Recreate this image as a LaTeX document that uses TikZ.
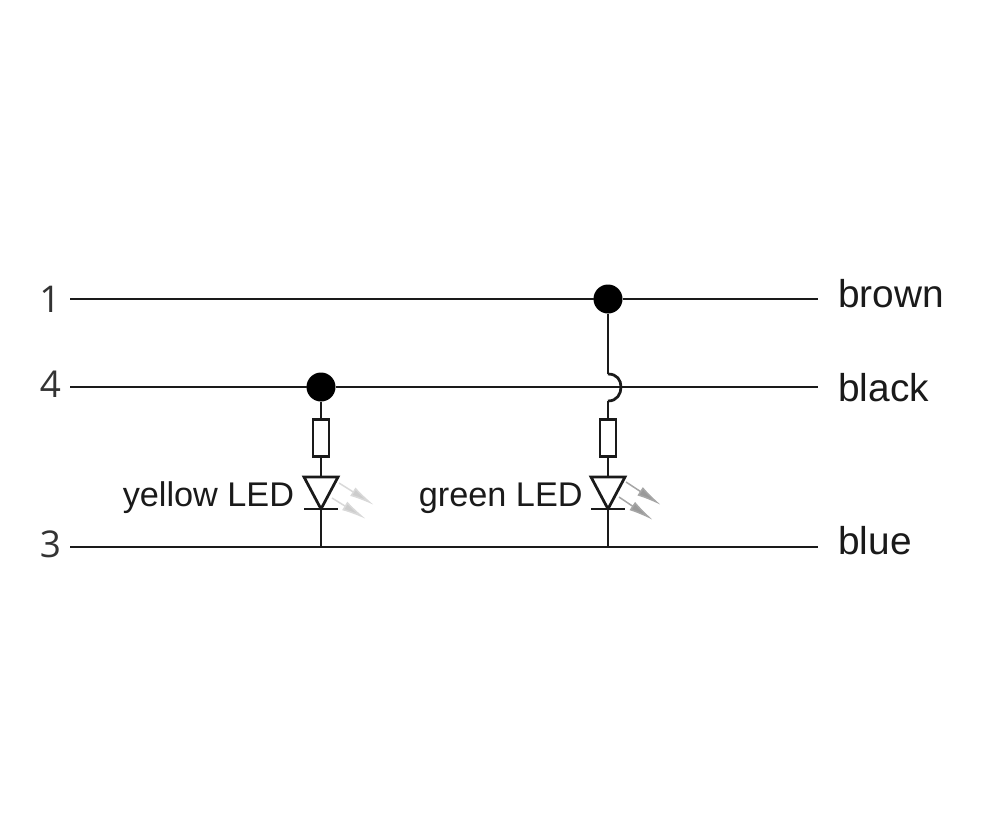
\documentclass[tikz,border=0pt]{standalone}
\usepackage{fontspec}
\setmainfont{Liberation Sans}
\newfontfamily\pinfont{Open Sans}
\usetikzlibrary{arrows.meta}
\definecolor{wirecol}{HTML}{1A1A1A}
\tikzset{
  wire/.style={draw=wirecol, line width=0.55mm},
  junction/.style={circle, fill=black, inner sep=0pt, outer sep=0pt, minimum size=0.58cm},
  resistor/.style={rectangle, draw=wirecol, fill=white, line width=0.55mm, inner sep=0pt, minimum width=0.32cm, minimum height=0.74cm},
  pinlabel/.style={anchor=base, inner sep=0pt, text=black!80, font=\pinfont\fontsize{21}{24}\selectfont},
  colorlabel/.style={anchor=base west, inner sep=0pt, text=wirecol, font=\fontsize{22.1}{24}\selectfont},
  ledlabel/.style={anchor=base east, inner sep=0pt, text=wirecol, font=\fontsize{19.5}{22}\selectfont},
  lightyellow/.style={draw=black!15, line width=0.3mm, -{Latex[length=0.5cm,width=0.2cm,fill=black!20]}},
  lightgreen/.style={draw=black!35, line width=0.3mm, -{Latex[length=0.5cm,width=0.2cm,fill=black!40]}},
}
\begin{document}
\begin{tikzpicture}[x=0.02cm,y=-0.02cm]
                \useasboundingbox (0,0) rectangle (1000,836);
                % wire ends
                \coordinate (startA) at (70,299);
                \coordinate (startB) at (70,387);
                \coordinate (startC) at (70,547);
                \coordinate (endA) at (818,299);
                \coordinate (endB) at (818,387);
                \coordinate (endC) at (818,547);
                \node[pinlabel] (pinA) at (50,312) {1};
                \node[pinlabel] (pinB) at (50.5,397) {4};
                \node[pinlabel] (pinC) at (50.5,557) {3};
                \node[colorlabel] (brown) at (838,307) {brown};
                \node[colorlabel] (black) at (838,401) {black};
                \node[colorlabel] (blue) at (838,554) {blue};
                % yellow branch
                \node[junction] (dotY) at (321,387) {};
                \node[resistor] (resY) at (321,438) {};
                \coordinate (ledYl) at (304,477);
                \coordinate (ledYr) at (338,477);
                \coordinate (ledYt) at (321,477);
                \coordinate (ledYk) at (321,509);
                \coordinate (barYl) at (304,509);
                \coordinate (barYr) at (338,509);
                \coordinate (railY) at (321,547);
                \node[ledlabel] (textY) at (294.5,506) {yellow LED};
                % green branch
                \node[junction] (dotG) at (608,299) {};
                \node[resistor] (resG) at (608,438) {};
                \coordinate (hopGa) at (608,374);
                \coordinate (hopGb) at (608,401);
                \coordinate (ledGl) at (591,477);
                \coordinate (ledGr) at (625,477);
                \coordinate (ledGt) at (608,477);
                \coordinate (ledGk) at (608,509);
                \coordinate (barGl) at (591,509);
                \coordinate (barGr) at (625,509);
                \coordinate (railG) at (608,547);
                \node[ledlabel] (textG) at (583,506) {green LED};
                % horizontal lines
                \draw[wire] (startA)-- (dotG)-- (endA);
                \draw[wire] (startB)-- (dotY)-- (endB);
                \draw[wire] (startC)-- (railY)-- (railG)-- (endC);
                % yellow led
                \draw[wire] (dotY)-- (resY);
                \draw[wire] (resY)-- (ledYt);
                \draw[wire,line join=miter] (ledYl)-- (ledYr)-- (ledYk)-- cycle;
                \draw[wire] (barYl)-- (barYr);
                \draw[wire] (ledYk)-- (railY);
                % green led
                \draw[wire] (dotG)-- (hopGa);
                \draw[wire] (hopGa) .. controls (617,374) and (621,380) .. (621,387) .. controls (621,394) and (617,401) .. (hopGb);
                \draw[wire] (hopGb)-- (resG);
                \draw[wire] (resG)-- (ledGt);
                \draw[wire,line join=miter] (ledGl)-- (ledGr)-- (ledGk)-- cycle;
                \draw[wire] (barGl)-- (barGr);
                \draw[wire] (ledGk)-- (railG);
                % light arrows
                \draw[lightyellow] (339,483)-- (374,505);
                \draw[lightyellow] (332,498)-- (366,519);
                \draw[lightgreen] (626,482)-- (661,505);
                \draw[lightgreen] (619,497)-- (653,520);
            \end{tikzpicture}
\end{document}
